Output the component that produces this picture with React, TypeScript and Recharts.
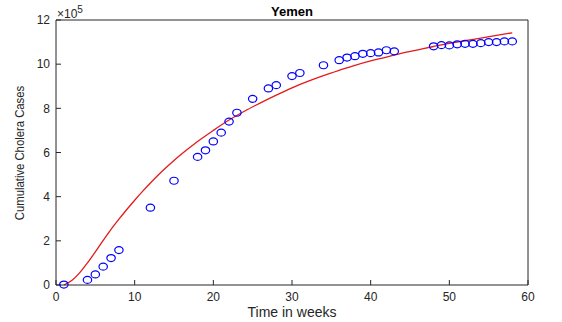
import React from 'react';
import {
    ComposedChart,
    Line,
    Scatter,
    XAxis,
    YAxis,
} from 'recharts';

// observed cumulative cases (x 10^5) by week
const obsWeeks = [1, 4, 5, 6, 7, 8, 12, 15, 18, 19, 20, 21, 22, 23, 25, 27, 28, 30, 31, 34, 36, 37, 38, 39, 40, 41, 42, 43, 48, 49, 50, 51, 52, 53, 54, 55, 56, 57, 58];
const obsCases = [0.02, 0.23, 0.48, 0.83, 1.22, 1.58, 3.5, 4.72, 5.8, 6.1, 6.5, 6.9, 7.4, 7.8, 8.43, 8.9, 9.05, 9.46, 9.6, 9.95, 10.18, 10.3, 10.36, 10.47, 10.5, 10.53, 10.63, 10.58, 10.81, 10.86, 10.85, 10.9, 10.92, 10.92, 10.95, 11.0, 11.0, 11.03, 11.03];

// model fit curve
const fitWeeks = [1, 2, 3, 4, 5, 6, 7, 8, 9, 10, 11, 12, 13, 14, 15, 16, 18, 20, 22, 24, 26, 28, 30, 32, 34, 36, 38, 40, 42, 44, 46, 48, 50, 52, 54, 56, 58];
const fitCases = [0, 0.2, 0.55, 1.0, 1.5, 2.02, 2.52, 2.98, 3.42, 3.84, 4.24, 4.62, 4.98, 5.32, 5.64, 5.94, 6.5, 7.0, 7.47, 7.88, 8.25, 8.6, 8.93, 9.22, 9.48, 9.72, 9.95, 10.15, 10.32, 10.5, 10.65, 10.8, 10.94, 11.06, 11.18, 11.3, 11.42];

const xTicks = [0, 10, 20, 30, 40, 50, 60];
const yTicks = [0, 2, 4, 6, 8, 10, 12];

const axisColor = '#262626';
const font = '"Liberation Sans", Arial, sans-serif';

const obsData = obsWeeks.map((w, i) => ({ week: w, cases: obsCases[i] }));
const fitData = fitWeeks.map((w, i) => ({ week: w, cases: fitCases[i] }));

const Circle = (props: any) => {
    const { cx, cy } = props;
    if (cx == null || cy == null) return null;
    return <ellipse cx={cx} cy={cy} rx={4.2} ry={3.5} fill="none" stroke="#0000ff" strokeWidth={1.2} />;
};

const App: React.FC = () => {
    const tickStyle = { fontSize: 12, fill: axisColor, fontFamily: font };
    return (
        <div style={{ position: 'absolute', left: 0, top: 0, width: 562, height: 322, background: '#fff' }}>
            <ComposedChart
                width={562}
                height={322}
                margin={{ top: 19, right: 33, bottom: 7, left: 16 }}
            >
                <XAxis
                    xAxisId="bottom"
                    dataKey="week"
                    type="number"
                    domain={[0, 60]}
                    ticks={xTicks}
                    height={30}
                    stroke={axisColor}
                    tickSize={-5}
                    tickMargin={12}
                    tick={tickStyle}
                    allowDataOverflow
                />
                <XAxis
                    xAxisId="top"
                    orientation="top"
                    dataKey="week"
                    type="number"
                    domain={[0, 60]}
                    ticks={xTicks}
                    height={1}
                    stroke={axisColor}
                    tickSize={-5}
                    tick={false}
                />
                <YAxis
                    yAxisId="left"
                    type="number"
                    domain={[0, 12]}
                    ticks={yTicks}
                    width={40}
                    stroke={axisColor}
                    tickSize={-5}
                    tickMargin={11}
                    tick={tickStyle}
                />
                <YAxis
                    yAxisId="right"
                    orientation="right"
                    type="number"
                    domain={[0, 12]}
                    ticks={yTicks}
                    width={1}
                    stroke={axisColor}
                    tickSize={-5}
                    tick={false}
                />
                <Line
                    xAxisId="bottom"
                    yAxisId="left"
                    data={fitData}
                    dataKey="cases"
                    type="monotone"
                    stroke="#e31a1c"
                    strokeWidth={1.3}
                    dot={false}
                    isAnimationActive={false}
                />
                <Scatter
                    xAxisId="bottom"
                    yAxisId="left"
                    data={obsData}
                    dataKey="cases"
                    shape={Circle}
                    isAnimationActive={false}
                />
                <text x={292} y={16} textAnchor="middle" fontFamily={font} fontSize={13} fontWeight="bold" fill="#000">Yemen</text>
                <text x={57} y={18} fontFamily={font} fontSize={12} fill={axisColor}>
                    ×10<tspan dy={-5} fontSize={10}>5</tspan>
                </text>
                <text x={292} y={317} textAnchor="middle" fontFamily={font} fontSize={14} fill={axisColor}>Time in weeks</text>
                <text
                    x={0}
                    y={0}
                    transform="translate(24,153) rotate(-90) scale(0.87,1)"
                    textAnchor="middle"
                    fontFamily={font}
                    fontSize={13}
                    fill={axisColor}
                >
                    Cumulative Cholera Cases
                </text>
            </ComposedChart>
        </div>
    );
};

export default App;
